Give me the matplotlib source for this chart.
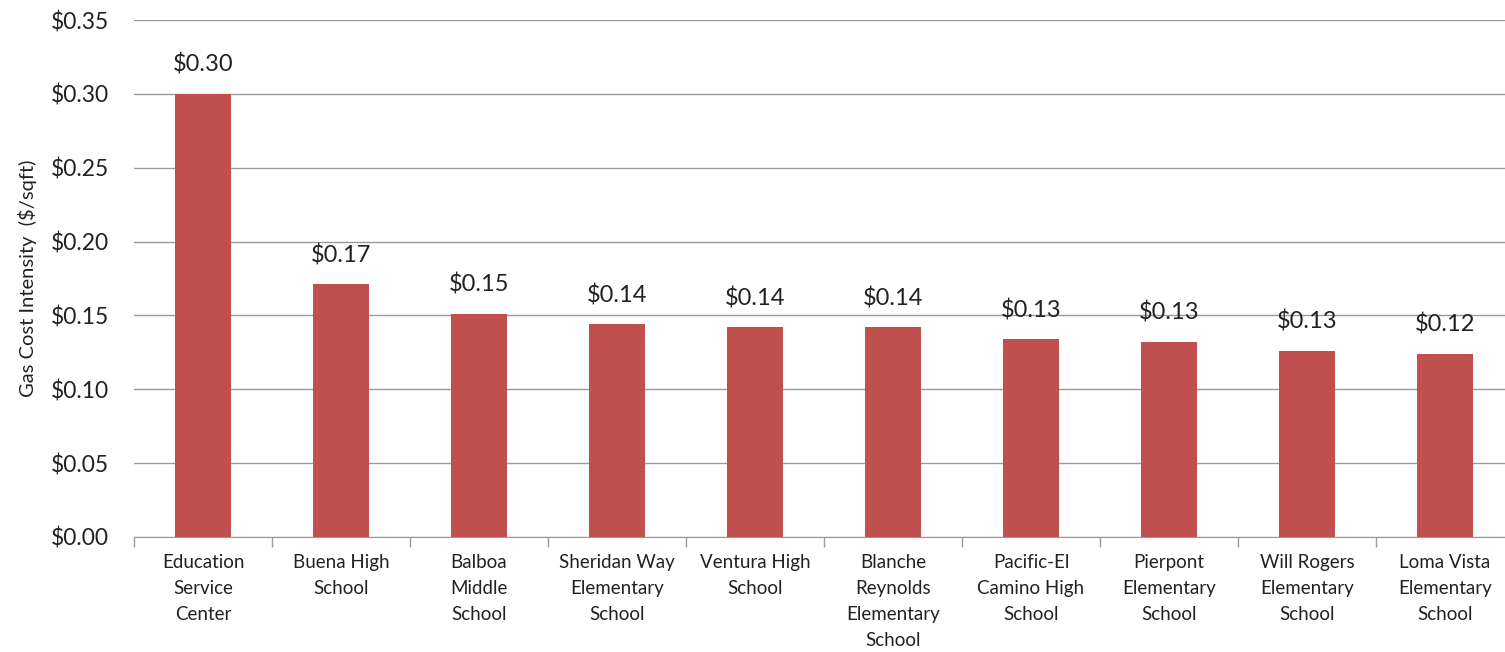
import numpy as np
import matplotlib.pyplot as plt
from matplotlib.ticker import FuncFormatter

# data
schools = ['Education\nService\nCenter', 'Buena High\nSchool', 'Balboa\nMiddle\nSchool',
           'Sheridan Way\nElementary\nSchool', 'Ventura High\nSchool',
           'Blanche\nReynolds\nElementary\nSchool', 'Pacific-El\nCamino High\nSchool',
           'Pierpont\nElementary\nSchool', 'Will Rogers\nElementary\nSchool',
           'Loma Vista\nElementary\nSchool']
cost = [0.300, 0.171, 0.151, 0.144, 0.142, 0.142, 0.134, 0.132, 0.126, 0.124]
yticks = [0.00, 0.05, 0.10, 0.15, 0.20, 0.25, 0.30, 0.35]

plt.rcParams['font.family'] = ['Lato', 'DejaVu Sans']

fig = plt.figure(figsize=(15.05, 6.52), dpi=100)
ax = fig.add_axes([134/1505, 115/652, 1380/1505, 517/652])

x = np.arange(len(schools))
ax.bar(x, cost, width=0.4, color='#C0504D', zorder=3)
for xi, v in zip(x, cost):
    ax.annotate('$%.2f' % v, (xi, v), xytext=(0, 13), textcoords='offset points',
                ha='center', va='bottom', fontsize=17, color='#222222')

ax.set_xlim(-0.5, len(schools) - 0.5)
ax.set_ylim(0, 0.35)
ax.set_yticks(yticks)
ax.yaxis.set_major_formatter(FuncFormatter(lambda v, p: '$%.2f' % v))
ax.grid(axis='y', color='#9a9a9a', linewidth=1, zorder=0)
ax.tick_params(axis='y', length=0, pad=18, labelsize=16.5, labelcolor='#222222')

ax.set_xticks(x)
ax.set_xticklabels(schools, fontsize=13.5, color='#222222', linespacing=1.65)
ax.set_xticks(np.arange(len(schools) + 1) - 0.5, minor=True)
ax.tick_params(axis='x', which='major', length=0, pad=12)
ax.tick_params(axis='x', which='minor', length=7, color='#9a9a9a', width=1)

for s in ['left', 'right', 'top']:
    ax.spines[s].set_visible(False)
ax.spines['bottom'].set_color('#9a9a9a')

ax.set_ylabel('Gas Cost Intensity  ($/sqft)', fontsize=14.5, color='#222222', labelpad=10)

fig.savefig('out.png', dpi=100)
